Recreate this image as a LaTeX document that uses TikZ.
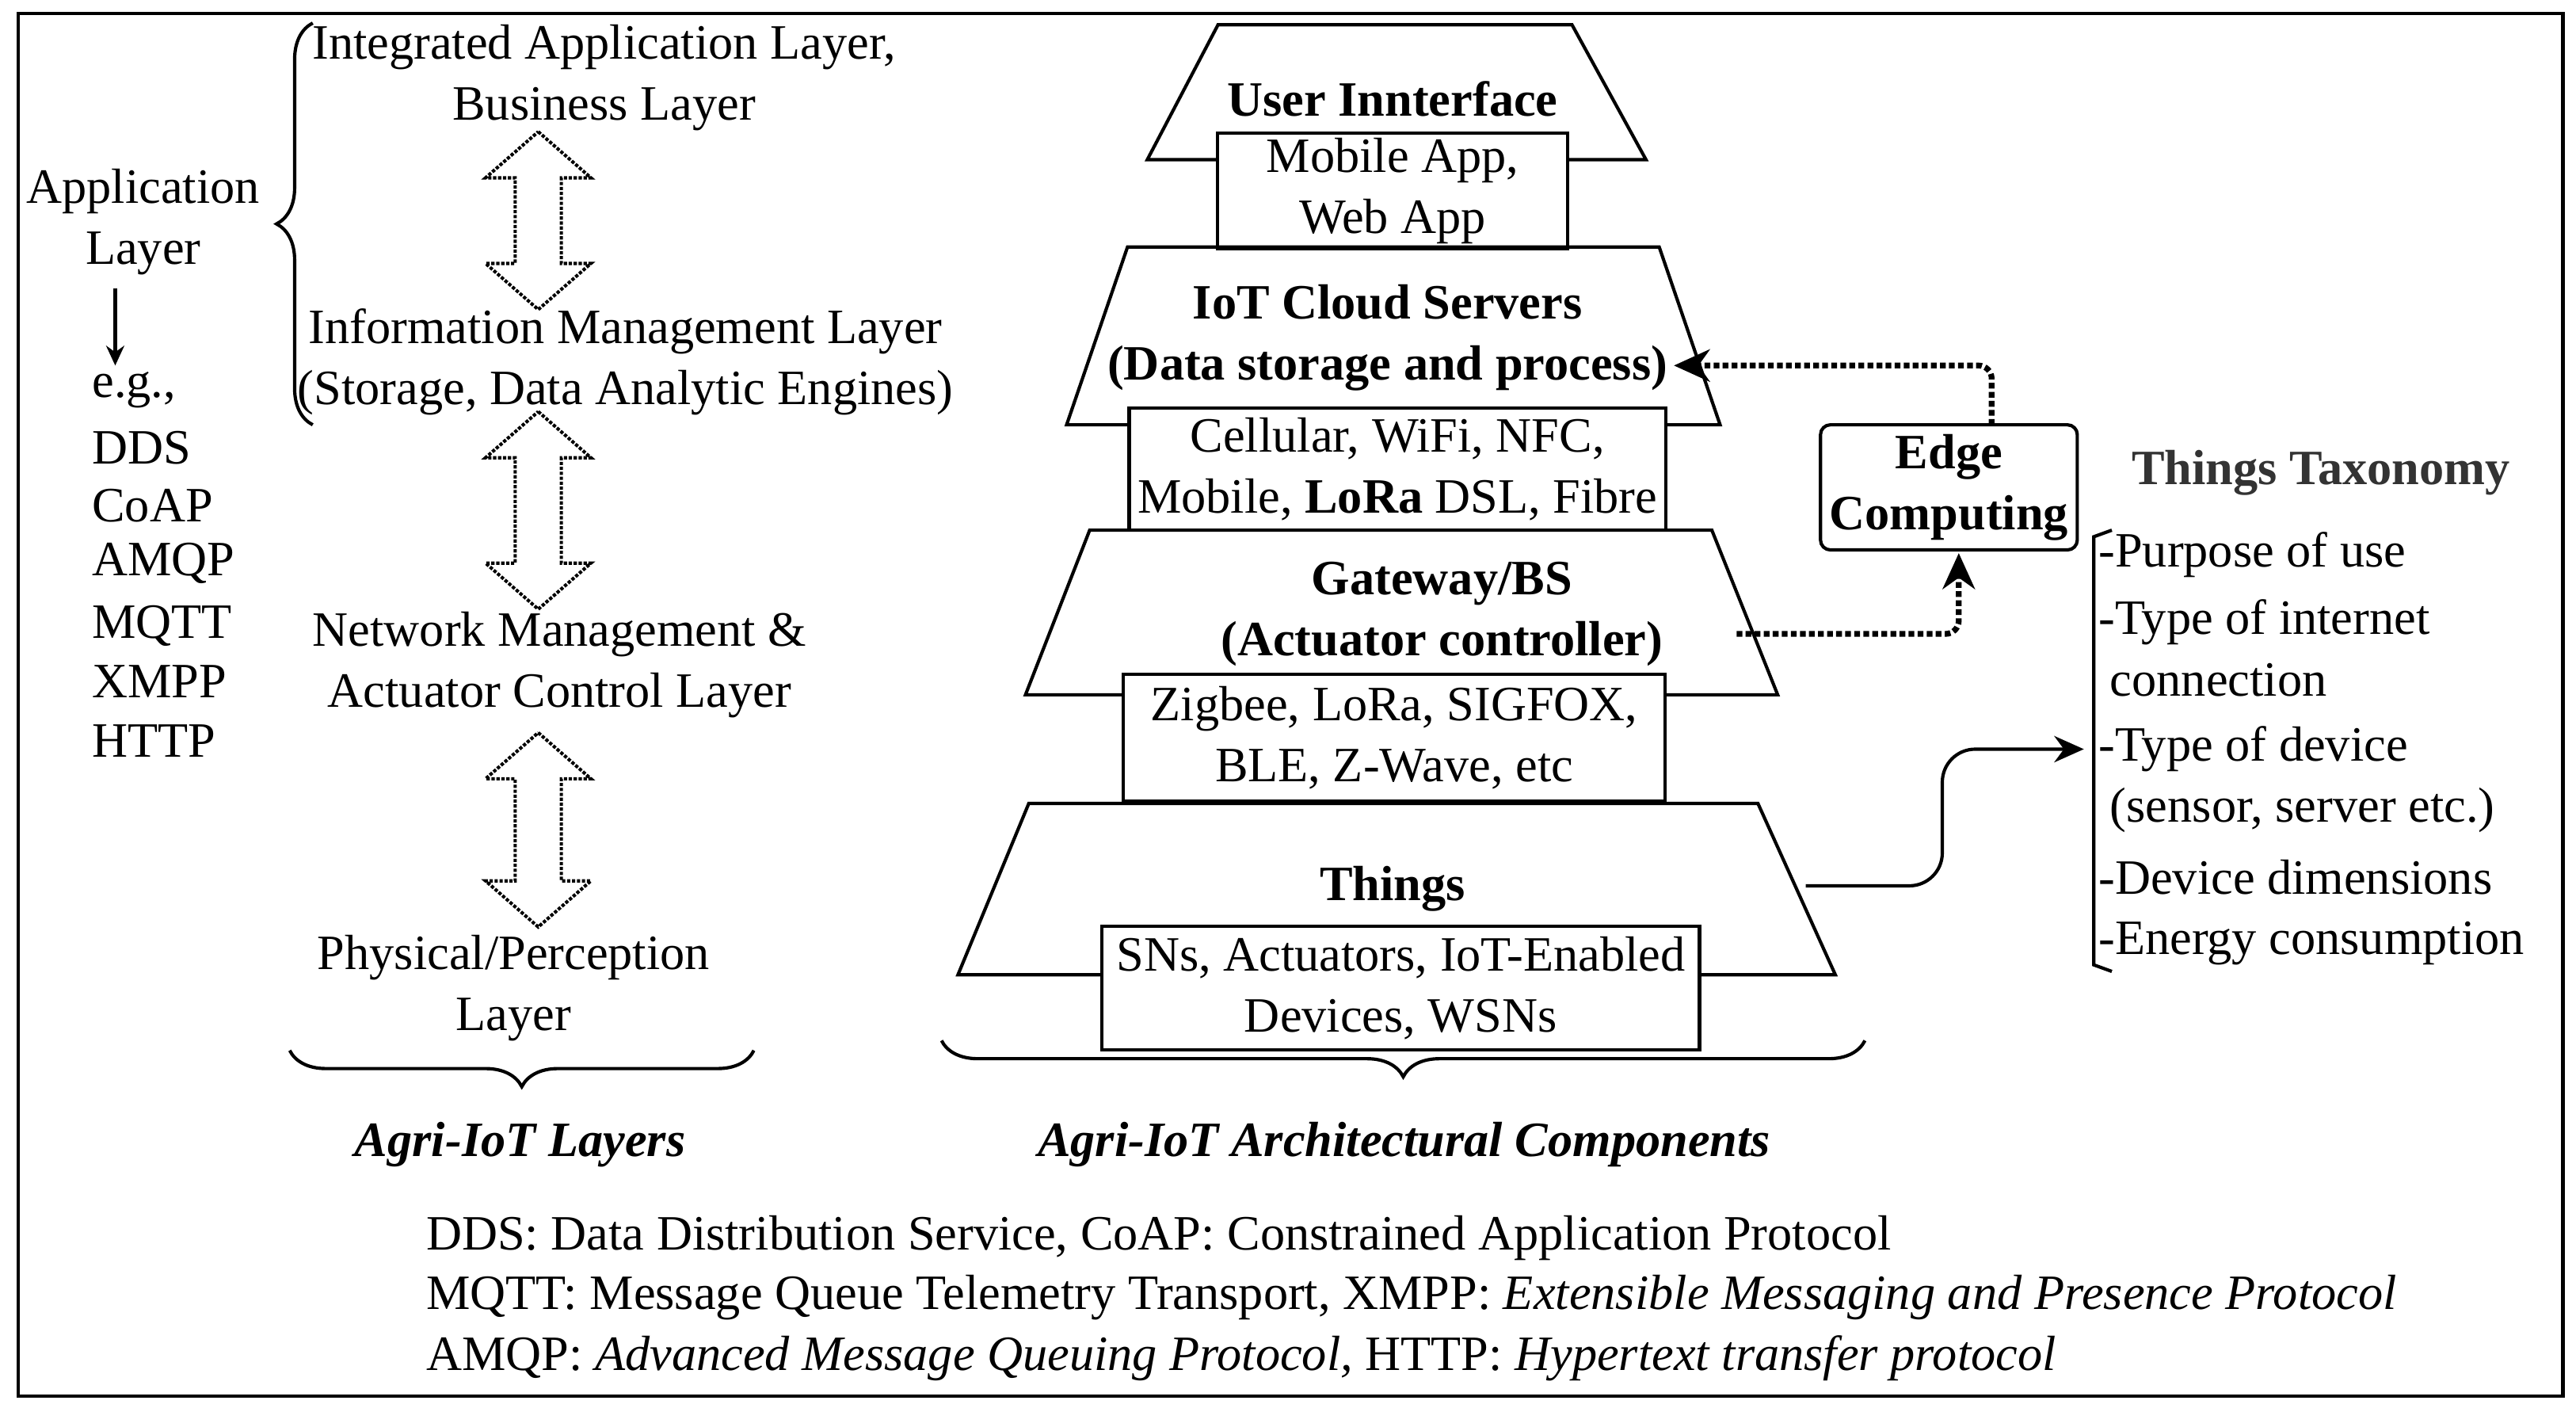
\documentclass[tikz,border=0pt]{standalone}
\usepackage{fontspec}
\setmainfont{Liberation Serif}
\usetikzlibrary{decorations.pathreplacing,arrows.meta}
\begin{document}
\begin{tikzpicture}[x=1pt,y=-1pt,line width=2pt,
  txt/.style={font=\fontsize{30}{37}\selectfont,align=center,inner sep=0},
  lt/.style={font=\fontsize{30}{37}\selectfont,anchor=west,inner sep=0},
  bx/.style={draw,fill=white,font=\fontsize{30}{37}\selectfont,align=center,inner sep=0},
  trap/.style={draw,line width=2pt},
  brc/.style={decorate,decoration={brace,amplitude=22pt}},
  dot/.style={line width=3.5pt,dotted,-{Stealth[length=22pt,width=20pt,line width=1pt]}},
  pics/dbl/.style args={#1}{code={
    \draw[densely dotted,line width=2pt] (0,0) -- (32,28) -- (14,28) -- (14,#1-28) -- (32,#1-28) -- (0,#1) -- (-32,#1-28) -- (-14,#1-28) -- (-14,28) -- (-32,28) -- cycle;}}]
\useasboundingbox (0,0) rectangle (1565,855);
\draw (11,8) rectangle (1557,848);
% left column
\node[txt] (app) at (87,135) {Application\\Layer};
\coordinate (a1) at (70,175); \coordinate (a2) at (70,222);
\draw[-{Stealth[length=12pt,width=11pt]}] (a1) -- (a2);
\node[lt] (eg) at (55,237) {e.g.,};
\node[lt] (dds) at (55,272) {DDS};
\node[lt] (coap) at (55,307) {CoAP};
\node[lt] (amqp) at (55,342) {AMQP};
\node[lt] (mqtt) at (55,380) {MQTT};
\node[lt] (xmpp) at (55,414) {XMPP};
\node[lt] (http) at (55,450) {HTTP};
\draw[brc] (190,258) -- (190,14);
\node[txt] (l1) at (367,47) {Integrated Application Layer,\\Business Layer};
\node[txt] (l2) at (380,220) {Information Management Layer\\(Storage, Data Analytic Engines)};
\node[txt] (l3) at (340,404) {Network Management \&\\Actuator Control Layer};
\node[txt] (l4) at (312,600) {Physical/Perception\\Layer};
\pic at (327,80) {dbl={108}};
\pic at (327,250) {dbl={120}};
\pic at (327,445) {dbl={118}};
\draw[brc] (458,638) -- (176,638);
\node[txt,font=\fontsize{30}{37}\selectfont\bfseries\itshape] (lay) at (316,695) {Agri-IoT Layers};
% pyramid
\draw[trap] (740,15) -- (955,15) -- (1000,97) -- (697,97) -- cycle;
\node[txt,font=\fontsize{30}{37}\selectfont\bfseries] (ui) at (846,60) {User Innterface};
\node[bx,minimum width=213,minimum height=70] (uib) at (846,116) {Mobile App,\\Web App};
\draw[trap] (685,150) -- (1008,150) -- (1045,258) -- (648,258) -- cycle;
\node[txt,font=\fontsize{30}{37}\selectfont\bfseries] (cl) at (843,205) {IoT Cloud Servers\\(Data storage and process)};
\node[bx,minimum width=326,minimum height=74] (clb) at (849,285) {Cellular, WiFi, NFC,\\Mobile, \textbf{LoRa} DSL, Fibre};
\draw[trap] (662,322) -- (1040,322) -- (1080,422) -- (623,422) -- cycle;
\node[txt,font=\fontsize{30}{37}\selectfont\bfseries] (gw) at (876,373) {Gateway/BS\\(Actuator controller)};
\node[bx,minimum width=329,minimum height=77] (gwb) at (847,448) {Zigbee, LoRa, SIGFOX,\\BLE, Z-Wave, etc};
\draw[trap] (625,488) -- (1068,488) -- (1115,592) -- (582,592) -- cycle;
\node[txt,font=\fontsize{30}{37}\selectfont\bfseries] (th) at (846,540) {Things};
\node[bx,minimum width=363,minimum height=75] (thb) at (851,600) {SNs, Actuators, IoT-Enabled\\Devices, WSNs};
\draw[brc] (1133,632) -- (572,632);
\node[txt,font=\fontsize{30}{37}\selectfont\bfseries\itshape] (arc) at (853,695) {Agri-IoT Architectural Components};
% edge
\node[draw,rounded corners=6pt,minimum width=156,minimum height=76,txt,font=\fontsize{30}{37}\selectfont\bfseries] (edge) at (1184,296) {Edge\\Computing};
\coordinate (c1) at (1017,222);
\draw[dot,rounded corners=8pt] (1210,258) -- (1210,222) -- (c1);
\coordinate (g1) at (1055,385);
\draw[dot,rounded corners=8pt] (g1) -- (1190,385) -- (1190,336);
% taxonomy
\node[txt,font=\fontsize{30}{37}\selectfont\bfseries,text=black!80] (tt) at (1410,287) {Things Taxonomy};
\draw[line width=2pt] (1283,322) -- (1272,326) -- (1272,586) -- (1283,590);
\node[lt] (t1) at (1274,337) {-Purpose of use};
\node[lt] (t2) at (1274,378) {-Type of internet};
\node[lt] (t3) at (1281,413) {connection};
\node[lt] (t4) at (1274,455) {-Type of device};
\node[lt] (t5) at (1281,492) {(sensor, server etc.)};
\node[lt] (t6) at (1274,533) {-Device dimensions};
\node[lt] (t7) at (1274,573) {-Energy consumption};
\coordinate (th1) at (1097,538);
\draw[-{Stealth[length=18pt,width=16pt]},rounded corners=20pt] (th1) -- (1180,538) -- (1180,455) -- (1266,455);
% footnote
\node[lt] (f1) at (258,752) {DDS: Data Distribution Service, CoAP: Constrained Application Protocol};
\node[lt] (f2) at (258,788) {MQTT: Message Queue Telemetry Transport, XMPP: \textit{Extensible Messaging and Presence Protocol}};
\node[lt] (f3) at (258,825) {AMQP: \textit{Advanced Message Queuing Protocol,} HTTP: \textit{Hypertext transfer protocol}};
\end{tikzpicture}
\end{document}
